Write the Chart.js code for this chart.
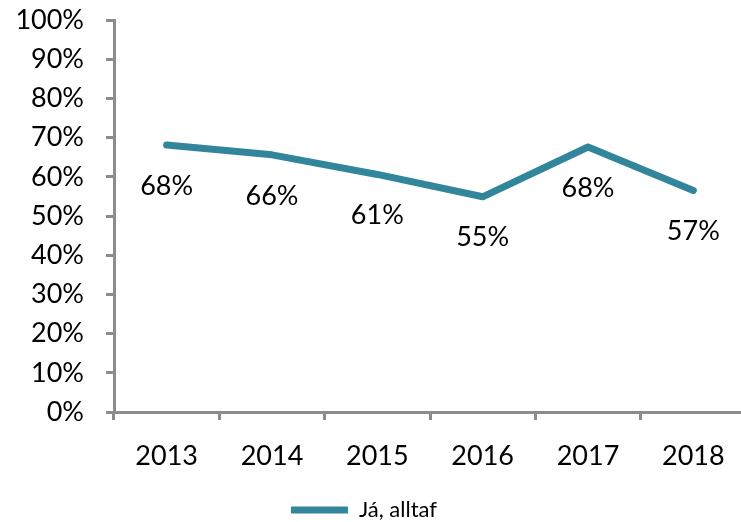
<!DOCTYPE html>
<html>
<head>
<meta charset="utf-8">
<script src="https://cdn.jsdelivr.net/npm/chart.js@4"></script>
<style>
  html, body { margin: 0; padding: 0; background: #fff; overflow: hidden; }
  #wrap { width: 750px; height: 522px; }
</style>
</head>
<body>
<div id="wrap"><canvas id="chart" width="750" height="522"></canvas></div>
<script>
// chart data
const years = ['2013', '2014', '2015', '2016', '2017', '2018'];
const alltaf = [68.1, 65.6, 60.6, 54.9, 67.6, 56.5];
const seriesName = 'Já, alltaf';

const lineColor = '#31869B';
const axisColor = '#8C8C8C';
const fontFamily = 'Lato, "Open Sans", sans-serif';

// draws the value labels under each point
const valueLabels = {
  id: 'valueLabels',
  afterDatasetsDraw(chart) {
    const ctx = chart.ctx;
    const meta = chart.getDatasetMeta(0);
    ctx.save();
    ctx.font = '27px ' + fontFamily;
    ctx.fillStyle = '#000';
    ctx.textAlign = 'center';
    ctx.textBaseline = 'middle';
    meta.data.forEach((pt, i) => {
      ctx.fillText(Math.round(alltaf[i]) + '%', pt.x, pt.y + 41);
    });
    ctx.restore();
  }
};

new Chart(document.getElementById('chart'), {
  type: 'line',
  data: {
    labels: years,
    datasets: [{
      label: seriesName,
      data: alltaf,
      borderColor: lineColor,
      backgroundColor: lineColor,
      borderWidth: 7,
      borderCapStyle: 'round',
      borderJoinStyle: 'round',
      pointRadius: 0,
      pointStyle: 'line',
      tension: 0
    }]
  },
  options: {
    responsive: false,
    animation: false,
    layout: { padding: { top: 20, left: -18, right: 4, bottom: -9 } },
    plugins: {
      tooltip: { enabled: false },
      legend: {
        position: 'bottom',
        labels: {
          usePointStyle: true,
          pointStyleWidth: 57,
          boxHeight: 7,
          color: '#000',
          font: { family: fontFamily, size: 22 },
          padding: 4
        }
      }
    },
    scales: {
      x: {
        offset: true,
        grid: {
          display: true,
          offset: true,
          drawOnChartArea: false,
          drawTicks: true,
          tickLength: 8,
          tickWidth: 3,
          tickColor: axisColor
        },
        border: { color: axisColor, width: 3 },
        ticks: {
          color: '#000',
          padding: 20,
          font: { family: fontFamily, size: 27 }
        },
        afterFit(scale) { scale.height = 83; }
      },
      y: {
        min: 0,
        max: 100,
        grid: {
          drawOnChartArea: false,
          drawTicks: true,
          tickLength: 8,
          tickWidth: 3,
          tickColor: axisColor
        },
        border: { color: axisColor, width: 3 },
        ticks: {
          stepSize: 10,
          color: '#000',
          padding: 22,
          font: { family: fontFamily, size: 27 },
          callback: v => v + '%'
        },
        afterFit(scale) {
          scale.width = 132;
          scale.paddingTop = 0;
          scale.paddingBottom = 0;
        }
      }
    }
  },
  plugins: [valueLabels]
});
</script>
</body>
</html>
